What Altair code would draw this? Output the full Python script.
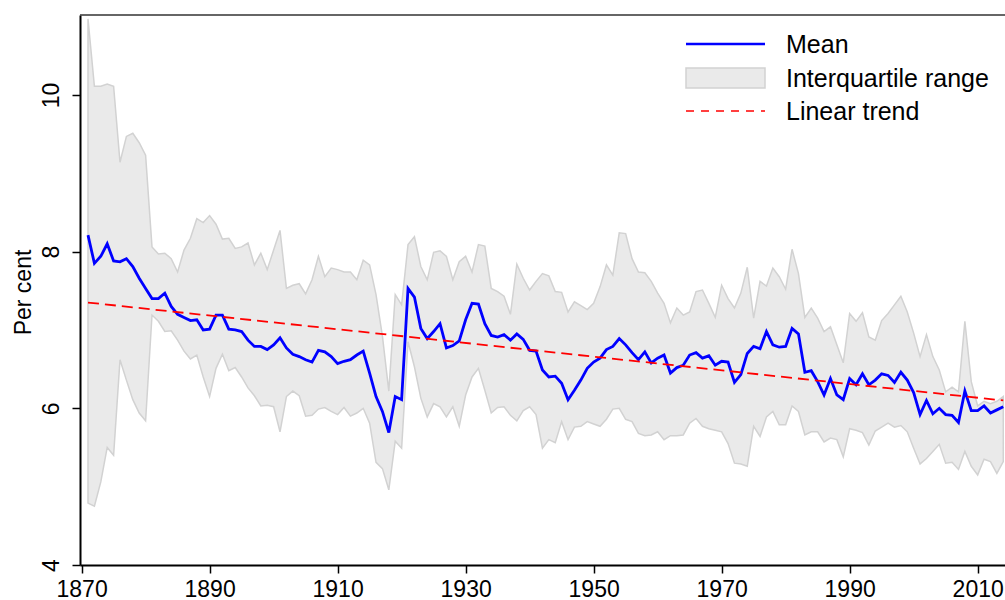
import altair as alt
import pandas as pd

# Annual series, 1871-2014 (per cent)
years = list(range(1871, 2015))

mean_pct = [
    8.21, 7.85, 7.94, 8.10, 7.88, 7.87, 7.91, 7.81, 7.66, 7.53,
    7.40, 7.40, 7.47, 7.30, 7.20, 7.16, 7.12, 7.13, 7.00, 7.01,
    7.19, 7.19, 7.01, 7.00, 6.98, 6.87, 6.79, 6.79, 6.75, 6.81,
    6.90, 6.77, 6.69, 6.66, 6.62, 6.59, 6.74, 6.72, 6.66, 6.57,
    6.60, 6.62, 6.68, 6.73, 6.45, 6.15, 5.96, 5.69, 6.15, 6.11,
    7.53, 7.42, 7.02, 6.89, 6.98, 7.08, 6.77, 6.80, 6.86, 7.13,
    7.34, 7.33, 7.08, 6.93, 6.91, 6.94, 6.87, 6.95, 6.88, 6.74,
    6.73, 6.49, 6.40, 6.41, 6.32, 6.11, 6.23, 6.36, 6.51, 6.59,
    6.64, 6.75, 6.79, 6.89, 6.81, 6.71, 6.62, 6.72, 6.58, 6.64,
    6.68, 6.45, 6.52, 6.55, 6.68, 6.71, 6.64, 6.67, 6.55, 6.60,
    6.59, 6.33, 6.43, 6.70, 6.79, 6.76, 6.98, 6.81, 6.78, 6.79,
    7.02, 6.95, 6.46, 6.48, 6.34, 6.17, 6.38, 6.17, 6.11, 6.38,
    6.30, 6.44, 6.30, 6.36, 6.44, 6.42, 6.33, 6.46, 6.36, 6.20,
    5.92, 6.10, 5.93, 6.00, 5.92, 5.91, 5.82, 6.22, 5.97, 5.97,
    6.03, 5.94, 5.98, 6.02,
]

iqr_upper = [
    10.97, 10.11, 10.11, 10.14, 10.11, 9.14, 9.47, 9.51, 9.39, 9.23,
    8.06, 7.97, 7.98, 7.91, 7.74, 8.02, 8.17, 8.42, 8.37, 8.46,
    8.35, 8.16, 8.17, 8.04, 8.06, 8.11, 7.83, 7.98, 7.77, 8.02,
    8.27, 7.53, 7.57, 7.59, 7.46, 7.64, 7.94, 7.68, 7.79, 7.77,
    7.74, 7.74, 7.64, 7.89, 7.83, 7.45, 6.92, 6.22, 7.45, 7.32,
    8.09, 8.19, 7.81, 7.64, 7.99, 8.01, 7.94, 7.64, 7.87, 7.94,
    7.74, 8.09, 8.07, 7.53, 7.49, 7.43, 7.20, 7.84, 7.66, 7.51,
    7.62, 7.72, 7.69, 7.49, 7.48, 7.23, 7.36, 7.31, 7.26, 7.34,
    7.55, 7.83, 7.70, 8.24, 8.23, 7.91, 7.74, 7.73, 7.62, 7.47,
    7.34, 7.09, 7.28, 7.19, 7.23, 7.49, 7.51, 7.34, 7.16, 7.57,
    7.40, 7.28, 7.47, 7.80, 7.15, 7.62, 7.56, 7.79, 7.68, 7.52,
    8.03, 7.72, 7.16, 7.28, 7.15, 6.98, 7.04, 6.81, 6.58, 7.21,
    7.11, 7.22, 6.91, 6.87, 7.12, 7.21, 7.32, 7.43, 7.23, 6.96,
    6.66, 6.94, 6.66, 6.49, 6.21, 6.27, 6.21, 7.11, 6.34, 6.03,
    6.09, 6.06, 6.09, 6.15,
]

iqr_lower = [
    4.79, 4.75, 5.06, 5.50, 5.40, 6.62, 6.36, 6.11, 5.94, 5.84,
    7.19, 7.11, 6.98, 6.99, 6.87, 6.73, 6.63, 6.68, 6.40, 6.15,
    6.51, 6.69, 6.48, 6.52, 6.40, 6.26, 6.16, 6.03, 6.04, 6.02,
    5.70, 6.15, 6.22, 6.16, 5.90, 5.91, 5.99, 6.01, 5.96, 5.92,
    6.01, 5.90, 5.94, 6.00, 5.81, 5.31, 5.23, 4.96, 5.58, 5.49,
    6.85, 6.53, 6.13, 5.89, 6.06, 6.02, 5.89, 6.02, 5.77, 6.17,
    6.40, 6.51, 6.23, 5.94, 6.01, 6.02, 5.91, 5.84, 5.97, 6.02,
    5.92, 5.49, 5.60, 5.56, 5.83, 5.60, 5.76, 5.77, 5.83, 5.80,
    5.77, 5.86, 5.99, 6.00, 5.86, 5.83, 5.68, 5.65, 5.66, 5.70,
    5.60, 5.65, 5.65, 5.66, 5.81, 5.87, 5.77, 5.74, 5.72, 5.70,
    5.55, 5.30, 5.29, 5.26, 5.77, 5.64, 5.89, 5.96, 5.79, 5.79,
    6.03, 5.96, 5.66, 5.70, 5.70, 5.57, 5.62, 5.60, 5.38, 5.74,
    5.72, 5.69, 5.53, 5.71, 5.76, 5.81, 5.76, 5.78, 5.70, 5.49,
    5.29, 5.36, 5.45, 5.54, 5.30, 5.31, 5.22, 5.45, 5.26, 5.15,
    5.35, 5.32, 5.17, 5.32,
]

# Fitted linear trend, end points
trend_years = [1871, 2014]
trend_pct = [7.35, 6.10]

x_ticks = [1870, 1890, 1910, 1930, 1950, 1970, 1990, 2010]
y_ticks = [4, 6, 8, 10]

legend_labels = ["Mean", "Interquartile range", "Linear trend"]

FONT = "Liberation Sans"
W, H = 925, 550

series = pd.DataFrame({"year": years, "mean": mean_pct,
                       "lower": iqr_lower, "upper": iqr_upper})
trend = pd.DataFrame({"year": trend_years, "trend": trend_pct})
one = pd.DataFrame({"k": [0]})

x_scale = alt.Scale(domain=[1869.75, 2014.27], nice=False, zero=False)
y_scale = alt.Scale(domain=[4, 11.02], nice=False, zero=False)

x_axis = alt.Axis(values=x_ticks, format="d", title=None, grid=False,
                  labelFontSize=23, labelFont=FONT, labelColor="black",
                  labelBaseline="alphabetic", labelPadding=23,
                  labelFlush=False, labelOverlap=False,
                  tickSize=8, tickWidth=1.5, tickColor="black",
                  domainColor="black", domainWidth=2)

y_axis = alt.Axis(values=y_ticks, format="d", title="Per cent", grid=False,
                  labelFontSize=23, labelFont=FONT, labelColor="black",
                  labelAngle=-90, labelAlign="center",
                  labelBaseline="alphabetic", labelPadding=14,
                  labelOverlap=False,
                  tickSize=8, tickWidth=1.5, tickColor="black",
                  domainColor="black", domainWidth=2,
                  titleFontSize=23, titleFont=FONT, titleFontWeight="normal",
                  titleColor="black", titleAngle=-90, titleAlign="center",
                  titleBaseline="alphabetic", titleX=-50, titleY=277)

X = alt.X("year:Q", scale=x_scale, axis=x_axis)

band = alt.Chart(series).mark_area(
    fill="#EAEAEA", stroke="#D2D2D2", strokeWidth=1.5, clip=True
).encode(
    x=X,
    y=alt.Y("lower:Q", scale=y_scale, axis=y_axis),
    y2="upper:Q",
)

mean_line = alt.Chart(series).mark_line(
    color="#0000FF", strokeWidth=2.8, clip=True
).encode(x=X, y=alt.Y("mean:Q", scale=y_scale, axis=y_axis))

trend_line = alt.Chart(trend).mark_line(
    color="#FF0000", strokeWidth=1.8, strokeDash=[11, 6], clip=True
).encode(x=X, y=alt.Y("trend:Q", scale=y_scale, axis=y_axis))

# Frame line along the top of the plot
top_border = alt.Chart(one).mark_rule(color="#333333", strokeWidth=1.3).encode(
    x=alt.value(0), x2=alt.value(W), y=alt.value(0)
)

# Legend, upper right inside the plot
key_x0, key_x1, text_x = 606, 685, 706
leg_mean = alt.Chart(one).mark_rule(color="#0000FF", strokeWidth=2.4).encode(
    x=alt.value(key_x0), x2=alt.value(key_x1), y=alt.value(29)
)
leg_band = alt.Chart(one).mark_rect(
    fill="#EAEAEA", stroke="#D2D2D2", strokeWidth=1.5
).encode(x=alt.value(key_x0), x2=alt.value(key_x1),
         y=alt.value(53), y2=alt.value(73))
leg_trend = alt.Chart(one).mark_rule(
    color="#FF0000", strokeWidth=1.6, strokeDash=[8, 7]
).encode(x=alt.value(key_x0), x2=alt.value(key_x1), y=alt.value(96))

leg_texts = [
    alt.Chart(one).mark_text(
        align="left", baseline="alphabetic", fontSize=25, font=FONT,
        color="black"
    ).encode(x=alt.value(text_x), y=alt.value(yb), text=alt.value(lbl))
    for lbl, yb in zip(legend_labels, [38.3, 71.7, 105.0])
]

chart = alt.layer(
    band, mean_line, trend_line, top_border,
    leg_mean, leg_band, leg_trend, *leg_texts
).properties(
    width=W, height=H,
    autosize=alt.AutoSizeParams(type="none"),
    padding={"left": 80, "top": 15, "right": 0, "bottom": 35},
    background="white",
).configure_view(strokeWidth=0)

chart.save("out.html", embed_options={"renderer": "svg", "actions": False})
